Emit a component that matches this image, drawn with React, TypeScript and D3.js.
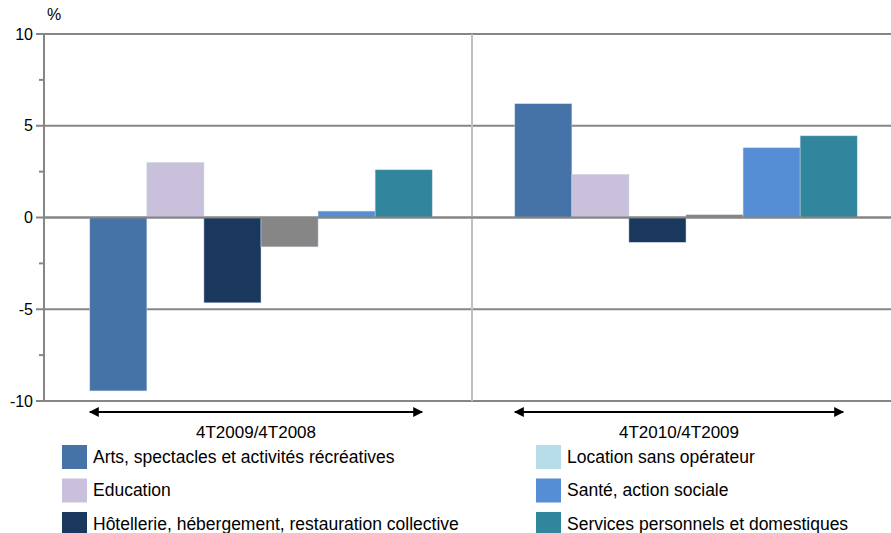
import React from "react";
import * as d3 from "d3";

// periods on the x axis
const periods = ["4T2009/4T2008", "4T2010/4T2009"];

// series (order of bars inside each period)
const seriesNames = [
  "Arts, spectacles et activités récréatives",
  "Education",
  "Hôtellerie, hébergement, restauration collective",
  "Autres",
  "Santé, action sociale",
  "Services personnels et domestiques",
];
const seriesColors = ["#4573A7", "#C9C1DB", "#1A375E", "#868686", "#558ED5", "#31859C"];

// values in %, one per period
const arts = [-9.45, 6.2];
const education = [3.0, 2.35];
const hotellerie = [-4.65, -1.35];
const autres = [-1.6, 0.15];
const sante = [0.35, 3.8];
const services = [2.6, 4.45];
const values = [arts, education, hotellerie, autres, sante, services];

// legend (two columns, three rows)
const legendNames = [
  "Arts, spectacles et activités récréatives",
  "Education",
  "Hôtellerie, hébergement, restauration collective",
  "Location sans opérateur",
  "Santé, action sociale",
  "Services personnels et domestiques",
];
const legendColors = ["#4573A7", "#C9C1DB", "#1A375E", "#B7DEE8", "#558ED5", "#31859C"];

const majorTicks = [10, 5, 0, -5, -10];
const minorTicks = [7.5, 2.5, -2.5, -7.5];

const W = 891;
const H = 533;
const left = 44;
const right = 900;
const top = 34;
const bottom = 401;
const labelFont = "Liberation Sans, Arial, sans-serif";

export default function App() {
  const y = d3.scaleLinear().domain([-10, 10]).range([bottom, top]);
  const x0 = d3.scaleBand<string>().domain(periods).range([left, right]);
  const x1 = d3
    .scaleBand<string>()
    .domain(seriesNames)
    .range([0, x0.bandwidth()])
    .paddingInner(0)
    .paddingOuter(0.75);
  const grey = "#868686";

  return (
    <svg width={W} height={H} style={{ position: "absolute", left: 0, top: 0, background: "#fff" }}>
      <defs>
        <marker id="ah" viewBox="0 0 10 10" refX="9" refY="5" markerWidth="5" markerHeight="5" orient="auto-start-reverse">
          <path d="M0,0 L10,5 L0,10 z" fill="#000" />
        </marker>
      </defs>

      <text x={47} y={20} fontFamily={labelFont} fontSize={16} fill="#000">%</text>

      {/* gridlines */}
      {majorTicks.map((t) => (
        <line key={"g" + t} x1={left - 8} x2={W} y1={y(t)} y2={y(t)} stroke={grey} strokeWidth={2} />
      ))}
      {minorTicks.map((t) => (
        <line key={"m" + t} x1={left - 5} x2={left} y1={y(t)} y2={y(t)} stroke={grey} strokeWidth={2} />
      ))}
      {majorTicks.map((t) => (
        <text key={"l" + t} x={33} y={y(t)} dy="0.35em" textAnchor="end" fontFamily={labelFont} fontSize={16} fill="#000">
          {t}
        </text>
      ))}

      {/* axes */}
      <line x1={left} x2={left} y1={top} y2={bottom} stroke={grey} strokeWidth={2} />
      <line x1={x0(periods[1])} x2={x0(periods[1])} y1={top} y2={bottom} stroke="#BFBFBF" strokeWidth={2} />

      {/* bars */}
      {seriesNames.map((s, si) =>
        periods.map((p, pi) => {
          const v = values[si][pi];
          const bx = (x0(p) ?? 0) + (x1(s) ?? 0) + (pi === 0 ? 3 : 0);
          return (
            <rect
              key={s + p}
              x={bx}
              y={y(Math.max(0, v))}
              width={x1.bandwidth()}
              height={Math.abs(y(v) - y(0))}
              fill={seriesColors[si]}
              stroke="#C9D5E6"
              strokeWidth={0.5}
            />
          );
        })
      )}
      <line x1={left} x2={W} y1={y(0)} y2={y(0)} stroke={grey} strokeWidth={2} />

      {/* period arrows and labels */}
      {periods.map((p, pi) => {
        const shift = pi === 0 ? 3 : 0;
        const x0p = (x0(p) ?? 0) + (x1(seriesNames[0]) ?? 0) + shift;
        const x1p = (x0(p) ?? 0) + (x1(seriesNames[seriesNames.length - 1]) ?? 0) + x1.bandwidth() - 10 + shift - (pi === 0 ? 0 : 4);
        return (
          <g key={p}>
            <line x1={x0p} x2={x1p} y1={412} y2={412} stroke="#000" strokeWidth={2} markerStart="url(#ah)" markerEnd="url(#ah)" />
            <text x={(x0p + x1p) / 2} y={438} textAnchor="middle" fontFamily="Liberation Sans, Arial, sans-serif" fontSize={17} fill="#000">
              {p}
            </text>
          </g>
        );
      })}

      {/* legend */}
      {legendNames.map((n, i) => {
        const col = Math.floor(i / 3);
        const row = i % 3;
        const lx = col === 0 ? 62 : 536;
        const cy = 457 + row * 33.5;
        return (
          <g key={n}>
            <rect x={lx} y={cy - 12} width={25} height={24} fill={legendColors[i]} />
            <text x={lx + 31} y={cy} dy="0.33em" fontFamily={labelFont} fontSize={17.5} fill="#000">
              {n}
            </text>
          </g>
        );
      })}
    </svg>
  );
}
